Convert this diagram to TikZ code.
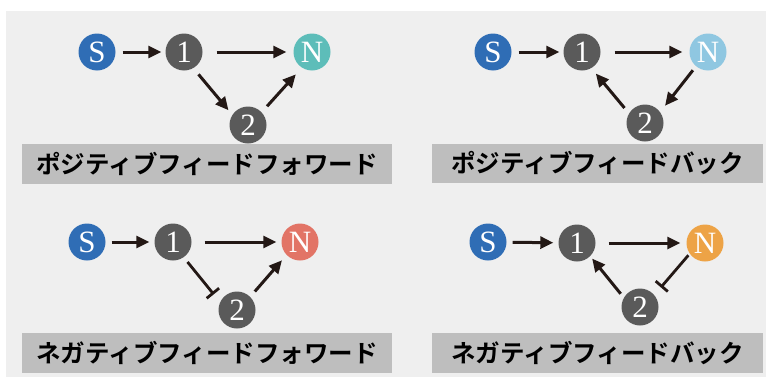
\documentclass[tikz,border=0pt]{standalone}
\usepackage{fontspec}
\setmainfont{Liberation Serif}
\newfontfamily\jpfont[BoldFont={Noto Sans CJK JP Bold}]{Noto Sans CJK JP}
\usetikzlibrary{arrows.meta}
\definecolor{panelbg}{HTML}{EFEFEF}
\definecolor{labbg}{HTML}{BEBEBE}
\definecolor{ink}{HTML}{231815}
\definecolor{sblue}{HTML}{2F6DB5}
\definecolor{dgray}{HTML}{5A5A5A}
\definecolor{nteal}{HTML}{5DBDB9}
\definecolor{nlblue}{HTML}{8FC7E1}
\definecolor{nsalmon}{HTML}{E27466}
\definecolor{norange}{HTML}{EDA346}
\tikzset{
  gn/.style={circle, minimum size=37pt, inner sep=0pt, text=white,
    font=\fontsize{31}{31}\selectfont},
  arr/.style={draw=ink, line width=3pt,
    -{Triangle[length=13pt,width=12pt]}},
  inh/.style={draw=ink, line width=2.8pt,
    -{Bar[width=16pt,line width=2.8pt]}},
  lab/.style={fill=labbg, inner sep=0pt, text=black,
    font=\jpfont\bfseries\fontsize{24.5}{25}\selectfont},
}
\begin{document}
\begin{tikzpicture}[x=1pt,y=-1pt]
\useasboundingbox (0,0) rectangle (773,383);
\fill[white] (0,0) rectangle (773,383);
\fill[panelbg] (6,11) rectangle (766,377);

% Panel 1: positive feed-forward
\node[gn, fill=sblue] (aS) at (97,52) {S};
\node[gn, fill=dgray] (a1) at (184,52) {1};
\node[gn, fill=nteal] (aN) at (312,52) {N};
\node[gn, fill=dgray] (a2) at (248,125) {2};
\node[lab, minimum width=370pt, minimum height=40pt] (aL) at (207,164) {ポジティブフィードフォワード};
\draw[arr, shorten <=7pt, shorten >=4pt] (aS) -- (a1);
\draw[arr, shorten <=14pt, shorten >=7pt] (a1) -- (aN);
\draw[arr, shorten <=8pt, shorten >=6pt] (a1.-60) -- (a2.147);
\draw[arr, shorten <=8pt, shorten >=9pt] (a2.43) -- (aN.237);

% Panel 2: positive feedback
\node[gn, fill=sblue] (bS) at (493,52) {S};
\node[gn, fill=dgray] (b1) at (582,52) {1};
\node[gn, fill=nlblue] (bN) at (708,52) {N};
\node[gn, fill=dgray] (b2) at (645,123) {2};
\node[lab, minimum width=331pt, minimum height=39pt] (bL) at (597.5,163.5) {ポジティブフィードバック};
\draw[arr, shorten <=7pt, shorten >=4pt] (bS) -- (b1);
\draw[arr, shorten <=14pt, shorten >=7pt] (b1) -- (bN);
\draw[arr, shorten <=5pt, shorten >=8pt] (bN.230) -- (b2.36);
\draw[arr, shorten <=7pt, shorten >=7pt] (b2.149) -- (b1.-60);

% Panel 3: negative feed-forward
\node[gn, fill=sblue] (cS) at (87,242) {S};
\node[gn, fill=dgray] (c1) at (173,242) {1};
\node[gn, fill=nsalmon] (cN) at (300,242) {N};
\node[gn, fill=dgray] (c2) at (237,310) {2};
\node[lab, minimum width=370pt, minimum height=40pt] (cL) at (207,353) {ネガティブフィードフォワード};
\draw[arr, shorten <=6pt, shorten >=5pt] (cS) -- (c1);
\draw[arr, shorten <=13pt, shorten >=5pt] (c1) -- (cN);
\draw[inh, shorten <=6pt, shorten >=10pt] (c1.-55) -- (c2.155);
\draw[arr, shorten <=7pt, shorten >=7pt] (c2.45) -- (cN.224);

% Panel 4: negative feedback
\node[gn, fill=sblue] (dS) at (488,242) {S};
\node[gn, fill=dgray] (d1) at (577,243) {1};
\node[gn, fill=norange] (dN) at (705,243) {N};
\node[gn, fill=dgray] (d2) at (640,307) {2};
\node[lab, minimum width=331pt, minimum height=40pt] (dL) at (597.5,353) {ネガティブフィードバック};
\draw[arr, shorten <=6pt, shorten >=5pt] (dS) -- (d1);
\draw[arr, shorten <=13pt, shorten >=6pt] (d1) -- (dN);
\draw[inh, shorten <=2pt, shorten >=10pt] (dN.215) -- (d2.40);
\draw[arr, shorten <=5pt, shorten >=3pt] (d2.150) -- (d1.-45);
\end{tikzpicture}
\end{document}
